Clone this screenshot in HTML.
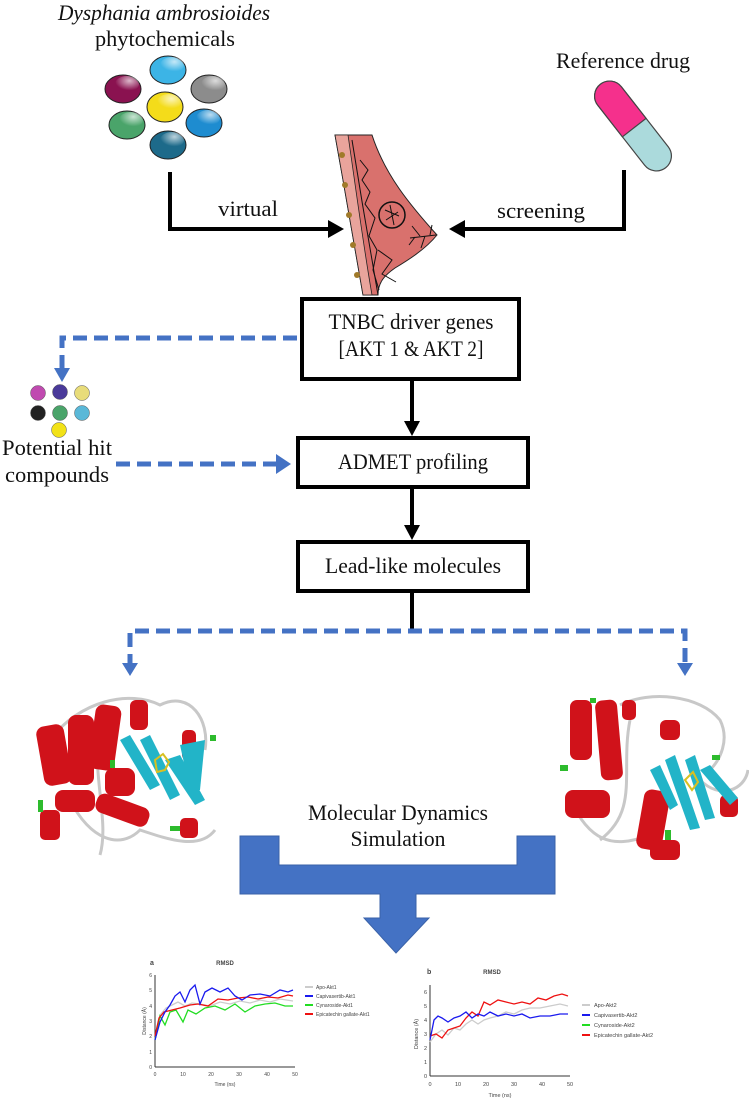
<!DOCTYPE html>
<html><head><meta charset="utf-8"><style>
html,body{margin:0;padding:0;background:#fff}
svg{display:block}
text{font-family:"Liberation Serif",serif;fill:#111}
text.s,.s text{font-family:"Liberation Sans",sans-serif;fill:#444}
</style></head><body>
<svg width="749" height="1104" viewBox="0 0 749 1104" xmlns="http://www.w3.org/2000/svg">
<defs>
<radialGradient id="hl" cx="0.6" cy="0.3" r="0.6"><stop offset="0" stop-color="#fff" stop-opacity="0.7"/><stop offset="1" stop-color="#fff" stop-opacity="0"/></radialGradient>
</defs>
<text x="164" y="20" font-size="22" font-style="italic" text-anchor="middle" textLength="212" lengthAdjust="spacingAndGlyphs">Dysphania ambrosioides</text>
<text x="165" y="46" font-size="22" text-anchor="middle" textLength="140" lengthAdjust="spacingAndGlyphs">phytochemicals</text>
<text x="623" y="68" font-size="22" text-anchor="middle" textLength="134" lengthAdjust="spacingAndGlyphs">Reference drug</text>
<g stroke="#222" stroke-width="1">
<ellipse cx="168" cy="70" rx="18" ry="14" fill="#3cb4e6"/>
<ellipse cx="123" cy="89" rx="18" ry="14" fill="#8a1250"/>
<ellipse cx="209" cy="89" rx="18" ry="14" fill="#8c8c8c"/>
<ellipse cx="165" cy="107" rx="18" ry="15" fill="#f4dc1a"/>
<ellipse cx="127" cy="125" rx="18" ry="14" fill="#4aa46a"/>
<ellipse cx="204" cy="123" rx="18" ry="14" fill="#1e8cd0"/>
<ellipse cx="168" cy="145" rx="18" ry="14" fill="#1d6a8a"/>
</g>
<g fill="url(#hl)">
<ellipse cx="172" cy="65" rx="12" ry="8"/><ellipse cx="127" cy="84" rx="12" ry="8"/><ellipse cx="213" cy="84" rx="12" ry="8"/><ellipse cx="169" cy="102" rx="12" ry="8"/><ellipse cx="131" cy="120" rx="12" ry="8"/><ellipse cx="208" cy="118" rx="12" ry="8"/><ellipse cx="172" cy="140" rx="12" ry="8"/>
</g>
<g transform="translate(633,126) rotate(52)">
<rect x="-53" y="-15" width="106" height="30" rx="15" fill="#abdadc" stroke="#444" stroke-width="1.2"/>
<path d="M-38,-15 H2 V15 H-38 A15,15 0 0 1 -38,-15 Z" fill="#f5308c" stroke="#444" stroke-width="1.2"/>
</g>
<g fill="none" stroke="#000" stroke-width="4">
<path d="M170,172 V229 H330"/>
<path d="M624,170 V229 H462"/>
</g>
<polygon points="328,220 344,229 328,238" fill="#000"/>
<polygon points="465,220 449,229 465,238" fill="#000"/>
<text x="248" y="216" font-size="22" text-anchor="middle" textLength="60" lengthAdjust="spacingAndGlyphs">virtual</text>
<text x="541" y="218" font-size="22" text-anchor="middle" textLength="88" lengthAdjust="spacingAndGlyphs">screening</text>
<path d="M335,135 L372,135 C385,175 410,205 437,235 C425,250 405,262 395,268 C385,275 378,282 378,295 L363,295 C355,250 345,190 335,135 Z" fill="#d9716d" stroke="#222" stroke-width="1"/>
<path d="M335,135 L348,135 C356,190 364,250 372,295 L363,295 C355,250 345,190 335,135 Z" fill="#e9a49c" stroke="#222" stroke-width="0.8"/>
<g fill="none" stroke="#111" stroke-width="1">
<path d="M352,140 C360,190 370,250 378,295"/>
<path d="M360,160 l8,10 -6,10 8,12 -5,12 10,14 -6,18 8,14 -4,20 6,20"/>
<circle cx="392" cy="215" r="13" stroke-width="1.5"/>
<path d="M385,210 l14,6 M386,220 l12,-8 M390,205 l4,20"/>
<path d="M410,238 l26,-3 M420,236 l-8,-10 M425,236 l-4,12 M430,235 l2,-10 M415,237 l-6,8"/>
<path d="M378,250 l14,10 -10,14 14,8"/>
</g>
<g fill="#a07a2a"><circle cx="342" cy="155" r="3"/><circle cx="345" cy="185" r="3"/><circle cx="349" cy="215" r="3"/><circle cx="353" cy="245" r="3"/><circle cx="357" cy="275" r="3"/></g>
<g fill="#fff" stroke="#000" stroke-width="4">
<rect x="302" y="299" width="217" height="80"/>
<rect x="298" y="438" width="230" height="49"/>
<rect x="298" y="542" width="230" height="49"/>
</g>
<text x="411" y="329" font-size="22" text-anchor="middle" textLength="165" lengthAdjust="spacingAndGlyphs">TNBC driver genes</text>
<text x="411" y="356" font-size="22" text-anchor="middle" textLength="145" lengthAdjust="spacingAndGlyphs">[AKT 1 &amp; AKT 2]</text>
<text x="413" y="469" font-size="22" text-anchor="middle" textLength="150" lengthAdjust="spacingAndGlyphs">ADMET profiling</text>
<text x="413" y="573" font-size="22" text-anchor="middle" textLength="176" lengthAdjust="spacingAndGlyphs">Lead-like molecules</text>
<g stroke="#000" stroke-width="4"><line x1="412" y1="379" x2="412" y2="422"/><line x1="412" y1="487" x2="412" y2="526"/><line x1="412" y1="591" x2="412" y2="631"/></g>
<polygon points="404,421 420,421 412,436" fill="#000"/>
<polygon points="404,525 420,525 412,540" fill="#000"/>
<g fill="none" stroke="#4472c4" stroke-width="5" stroke-dasharray="14,7">
<path d="M297,338 H62 V368"/>
<path d="M116,464 H278"/>
<path d="M130,668 V631 H685 V668"/>
</g>
<polygon points="54,368 70,368 62,382" fill="#4472c4"/>
<polygon points="276,454 291,464 276,474" fill="#4472c4"/>
<polygon points="122,663 138,663 130,676" fill="#4472c4"/>
<polygon points="677,663 693,663 685,676" fill="#4472c4"/>
<g stroke="#555" stroke-width="0.5">
<circle cx="38" cy="393" r="7.5" fill="#c04ab0"/><circle cx="60" cy="392" r="7.5" fill="#4a3a9a"/><circle cx="82" cy="393" r="7.5" fill="#e8dc7a"/>
<circle cx="38" cy="413" r="7.5" fill="#222"/><circle cx="60" cy="413" r="7.5" fill="#4aa46a"/><circle cx="82" cy="413" r="7.5" fill="#5ab8d8"/>
<circle cx="59" cy="430" r="7.5" fill="#f2e218"/>
</g>
<text x="57" y="455" font-size="22" text-anchor="middle" textLength="110" lengthAdjust="spacingAndGlyphs">Potential hit</text>
<text x="57" y="482" font-size="22" text-anchor="middle" textLength="104" lengthAdjust="spacingAndGlyphs">compounds</text>
<g>
<g fill="none" stroke="#c8c8c8" stroke-width="3">
<path d="M50,740 C80,700 130,690 160,705 C190,690 210,720 205,750"/>
<path d="M70,800 C90,840 120,850 140,830 C170,840 200,850 215,830"/>
<path d="M100,720 C90,770 110,820 100,855"/>
</g>
<g fill="#d0121a">
<rect x="40" y="725" width="28" height="60" rx="8" transform="rotate(-10 54 755)"/>
<rect x="68" y="715" width="26" height="70" rx="8"/>
<rect x="92" y="705" width="26" height="65" rx="8" transform="rotate(8 105 737)"/>
<rect x="55" y="790" width="40" height="22" rx="8"/>
<rect x="95" y="800" width="55" height="20" rx="8" transform="rotate(20 122 810)"/>
<rect x="130" y="700" width="18" height="30" rx="6"/>
<rect x="182" y="730" width="14" height="30" rx="5"/>
<rect x="180" y="818" width="18" height="20" rx="5"/>
<rect x="40" y="810" width="20" height="30" rx="5"/>
<rect x="105" y="768" width="30" height="28" rx="8"/>
</g>
<g fill="#22b4c8">
<path d="M120,740 L150,790 L160,785 L130,735Z"/><path d="M140,740 L170,800 L180,795 L150,735Z"/><path d="M165,760 L195,805 L205,800 L180,755Z"/><path d="M180,745 L205,740 L200,790 L190,790Z"/>
</g>
<g fill="#2dbb2d"><rect x="38" y="800" width="5" height="12"/><rect x="110" y="760" width="5" height="8"/><rect x="170" y="826" width="10" height="5"/><rect x="210" y="735" width="6" height="6"/></g>
<path d="M155,760 l8,-6 6,8 -4,8 -8,2z" fill="none" stroke="#d8c020" stroke-width="2"/>
</g>
<g>
<g fill="none" stroke="#c8c8c8" stroke-width="3">
<path d="M620,705 C650,690 700,695 720,720 C730,740 720,760 710,770"/>
<path d="M570,800 C590,840 610,850 650,835"/>
<path d="M630,720 C620,770 640,810 600,840"/>
<path d="M700,780 C720,800 745,790 748,770"/>
</g>
<g fill="#d0121a">
<rect x="570" y="700" width="22" height="60" rx="7"/>
<rect x="598" y="700" width="22" height="80" rx="7" transform="rotate(-5 609 740)"/>
<rect x="565" y="790" width="45" height="28" rx="8"/>
<rect x="640" y="790" width="26" height="60" rx="8" transform="rotate(10 653 820)"/>
<rect x="660" y="720" width="20" height="20" rx="6"/>
<rect x="650" y="840" width="30" height="20" rx="6"/>
<rect x="720" y="795" width="18" height="22" rx="5"/>
<rect x="622" y="700" width="14" height="20" rx="5"/>
</g>
<g fill="#22b4c8">
<path d="M665,760 L690,830 L700,828 L675,755Z"/><path d="M685,760 L705,820 L715,818 L695,755Z"/><path d="M700,770 L730,805 L738,798 L710,765Z"/><path d="M650,770 L670,810 L678,805 L660,765Z"/>
</g>
<g fill="#2dbb2d"><rect x="560" y="765" width="8" height="6"/><rect x="665" y="830" width="6" height="10"/><rect x="712" y="755" width="8" height="5"/><rect x="590" y="698" width="6" height="5"/></g>
<path d="M685,780 l8,-8 5,10 -6,8z" fill="none" stroke="#d8c020" stroke-width="2"/>
</g>
<text x="398" y="820" font-size="22" text-anchor="middle" textLength="180" lengthAdjust="spacingAndGlyphs">Molecular Dynamics</text>
<text x="398" y="846" font-size="22" text-anchor="middle" textLength="95" lengthAdjust="spacingAndGlyphs">Simulation</text>
<path d="M240,836 H279 V865 H517 V836 H555 V894 H416 V918 H429 L396,953 L364,918 H380 V894 H240 Z" fill="#4472c4" stroke="#3a62a8" stroke-width="1"/>
<g>
<text class="s" x="150" y="965" font-weight="bold" font-size="7">a</text>
<text class="s" x="225" y="965" text-anchor="middle" font-weight="bold" font-size="6">RMSD</text>
<g stroke="#333" stroke-width="1"><line x1="155" y1="975" x2="155" y2="1067"/><line x1="155" y1="1067" x2="295" y2="1067"/></g>
<g class="s" font-size="5" text-anchor="end"><text x="152" y="1069">0</text><text x="152" y="1054">1</text><text x="152" y="1038">2</text><text x="152" y="1023">3</text><text x="152" y="1008">4</text><text x="152" y="992">5</text><text x="152" y="977">6</text></g>
<g class="s" font-size="5" text-anchor="middle"><text x="155" y="1076">0</text><text x="183" y="1076">10</text><text x="211" y="1076">20</text><text x="239" y="1076">30</text><text x="267" y="1076">40</text><text x="295" y="1076">50</text><text x="225" y="1086">Time (ns)</text></g>
<text class="s" font-size="5" transform="translate(146,1021) rotate(-90)" text-anchor="middle">Distance (Å)</text>
<g fill="none" stroke-width="1.3">
<polyline stroke="#ccc" points="155,1040 160,1015 166,1008 172,1005 178,1002 185,1006 192,1003 200,1004 210,1006 220,1002 230,1004 240,1001 250,1003 260,1000 270,1002 280,999 293,1001"/>
<polyline stroke="#22dd22" points="155,1040 160,1016 165,1025 170,1012 176,1010 183,1022 188,1010 196,1014 205,1008 215,1006 225,1010 235,1004 245,1012 255,1006 265,1004 275,1003 285,1006 293,1006"/>
<polyline stroke="#ee1111" points="155,1036 159,1018 164,1012 172,1010 180,1008 190,1005 198,1004 208,1006 218,999 228,1000 238,998 248,997 258,999 268,997 278,998 288,995 293,996"/>
<polyline stroke="#1a1aee" points="155,1040 160,1022 165,1012 170,1005 175,996 180,992 185,1002 190,990 195,985 200,1004 205,992 212,988 220,992 228,988 235,996 242,1000 250,995 260,994 270,996 280,990 288,992 293,990"/>
</g>
<g stroke-width="2"><line x1="305" y1="987" x2="313" y2="987" stroke="#ccc"/><line x1="305" y1="996" x2="313" y2="996" stroke="#1a1aee"/><line x1="305" y1="1005" x2="313" y2="1005" stroke="#22dd22"/><line x1="305" y1="1014" x2="313" y2="1014" stroke="#ee1111"/></g>
<g class="s" font-size="5"><text x="316" y="989">Apo-Akt1</text><text x="316" y="998">Capivasertib-Akt1</text><text x="316" y="1007">Cynaroside-Akt1</text><text x="316" y="1016">Epicatechin gallate-Akt1</text></g>
</g>
<g>
<text class="s" x="427" y="974" font-weight="bold" font-size="7">b</text>
<text class="s" x="492" y="974" text-anchor="middle" font-weight="bold" font-size="6">RMSD</text>
<g stroke="#333" stroke-width="1"><line x1="430" y1="985" x2="430" y2="1076"/><line x1="430" y1="1076" x2="570" y2="1076"/></g>
<g class="s" font-size="5.5" text-anchor="end"><text x="427" y="1078">0</text><text x="427" y="1064">1</text><text x="427" y="1050">2</text><text x="427" y="1036">3</text><text x="427" y="1022">4</text><text x="427" y="1008">5</text><text x="427" y="994">6</text></g>
<g class="s" font-size="5.5" text-anchor="middle"><text x="430" y="1086">0</text><text x="458" y="1086">10</text><text x="486" y="1086">20</text><text x="514" y="1086">30</text><text x="542" y="1086">40</text><text x="570" y="1086">50</text><text x="500" y="1097">Time (ns)</text></g>
<text class="s" font-size="5.5" transform="translate(418,1034) rotate(-90)" text-anchor="middle">Distance (Å)</text>
<g fill="none" stroke-width="1.3">
<polyline stroke="#ccc" points="430,1042 436,1034 442,1030 448,1035 454,1028 460,1030 466,1024 472,1020 478,1024 484,1020 490,1018 498,1016 506,1012 514,1014 522,1010 530,1008 540,1008 550,1006 560,1004 568,1006"/>
<polyline stroke="#ee1111" points="430,1036 436,1034 442,1038 448,1030 454,1028 460,1026 466,1018 472,1012 478,1016 484,1002 490,1005 498,1000 506,1002 514,1004 522,1002 530,1004 538,998 546,1000 554,996 562,994 568,996"/>
<polyline stroke="#1a1aee" points="430,1040 434,1020 438,1016 442,1018 448,1022 454,1018 460,1016 466,1012 472,1018 478,1014 484,1016 490,1012 498,1016 506,1014 514,1016 522,1014 530,1018 540,1016 550,1016 560,1014 568,1014"/>
</g>
<g stroke-width="2"><line x1="582" y1="1005" x2="590" y2="1005" stroke="#ccc"/><line x1="582" y1="1015" x2="590" y2="1015" stroke="#1a1aee"/><line x1="582" y1="1025" x2="590" y2="1025" stroke="#22dd22"/><line x1="582" y1="1035" x2="590" y2="1035" stroke="#ee1111"/></g>
<g class="s" font-size="5.5"><text x="594" y="1007">Apo-Akt2</text><text x="594" y="1017">Capivasertib-Akt2</text><text x="594" y="1027">Cynaroside-Akt2</text><text x="594" y="1037">Epicatechin gallate-Akt2</text></g>
</g>
</svg>
</body></html>
